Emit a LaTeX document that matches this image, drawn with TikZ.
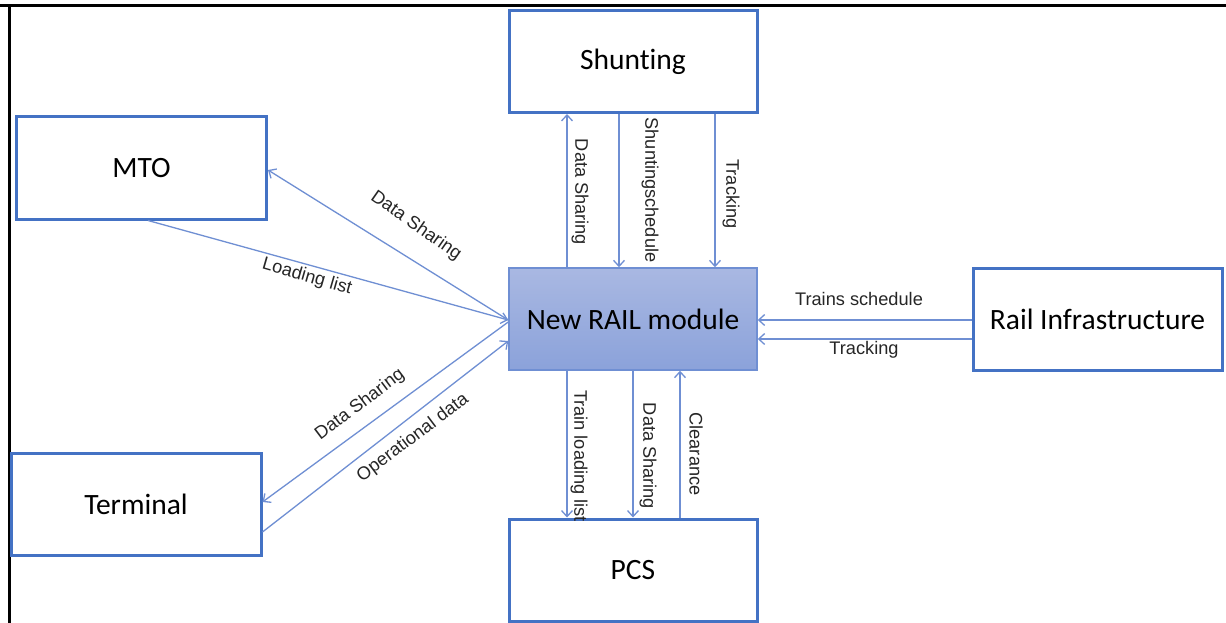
\documentclass[tikz,border=0pt]{standalone}
\usepackage{fontspec}
\setmainfont{Carlito}[Ligatures=NoCommon]
\newfontfamily\lblfont{Liberation Sans}
\usetikzlibrary{arrows.meta}
\definecolor{boxblue}{HTML}{4472C4}
\definecolor{lineblue}{HTML}{6F8FD3}
\definecolor{railtop}{HTML}{A9B8E2}
\definecolor{railbot}{HTML}{8BA2DA}
\definecolor{txt}{HTML}{262626}
\begin{document}
\begin{tikzpicture}[x=1pt,y=-1pt,
  box/.style={draw=boxblue, line width=3pt, fill=white, minimum width=248pt,
    minimum height=102pt, inner sep=0pt, font=\fontsize{29.5}{32}\selectfont},
  railbox/.style={box, draw=lineblue, line width=1.5pt, top color=railtop, bottom color=railbot},
  conn/.style={draw=lineblue, line width=1.3pt, -{Straight Barb[length=6pt,width=11pt]}},
  lbl/.style={font=\lblfont\fontsize{18.2}{20}\selectfont, text=txt, inner sep=0pt},
  frameline/.style={draw=black, line width=3pt}]
\useasboundingbox (0,0) rectangle (1226,623);
\fill[white] (0,0) rectangle (1226,623);
\draw[frameline] (0,6) -- (1226,6);
\draw[frameline] (9,6) -- (9,623);

\node[box] (shunt) at (633,61.5) {\raisebox{-2pt}{Shunting}};
\node[box, minimum width=250pt] (mto) at (141.5,168) {\raisebox{-2pt}{MTO}};
\node[railbox] (rail) at (633,319) {\raisebox{-2pt}{New RAIL module}};
\node[box, minimum width=249pt] (infra) at (1097.5,319.5) {\raisebox{-2pt}{Rail Infrastructure}};
\node[box, minimum width=250pt] (term) at (136,504) {\raisebox{-2pt}{Terminal}};
\node[box] (pcs) at (633,570) {\raisebox{-2pt}{PCS}};

% Shunting <-> RAIL
\draw[conn] (rail.north -| 567,0) -- (shunt.south -| 567,0);
\draw[conn] (shunt.south -| 619,0) -- (rail.north -| 619,0);
\draw[conn] (shunt.south -| 715,0) -- (rail.north -| 715,0);
% RAIL <-> PCS
\draw[conn] (rail.south -| 567,0) -- (pcs.north -| 567,0);
\draw[conn] (rail.south -| 633,0) -- (pcs.north -| 633,0);
\draw[conn] (pcs.north -| 680,0) -- (rail.south -| 680,0);
% Infrastructure -> RAIL
\draw[conn] (infra.west |- 0,320) -- (rail.east |- 0,320);
\draw[conn] (infra.west |- 0,339) -- (rail.east |- 0,339);
% MTO
\draw[conn] (rail.west |- 0,320) -- (mto.east |- 0,170);
\draw[conn] (mto.south -| 148,0) -- (rail.west |- 0,320);
% Terminal
\draw[conn] (rail.west |- 0,322) -- (term.east |- 0,502);
\draw[conn] (term.east |- 0,532) -- (rail.west |- 0,341);

% labels
\node[lbl, rotate=-90] (ls1) at (580,192) {Data Sharing};
\node[lbl, rotate=-90] (ls2) at (650,190) {Shuntingschedule};
\node[lbl, rotate=-90] (ls3) at (731,194) {Tracking};
\node[lbl, rotate=-90] (lp1) at (579,456) {Train loading list};
\node[lbl, rotate=-90] (lp2) at (648,456) {Data Sharing};
\node[lbl, rotate=-90] (lp3) at (696,454) {Clearance};
\node[lbl] (li1) at (859,299) {Trains schedule};
\node[lbl] (li2) at (864,350) {Tracking};
\node[lbl, rotate=-35] (lm1) at (416,226) {Data Sharing};
\node[lbl, rotate=-16] (lm2) at (307,277) {Loading list};
\node[lbl, rotate=37] (lt1) at (360,405) {Data Sharing};
\node[lbl, rotate=37] (lt2) at (413,438) {Operational data};
\end{tikzpicture}
\end{document}
